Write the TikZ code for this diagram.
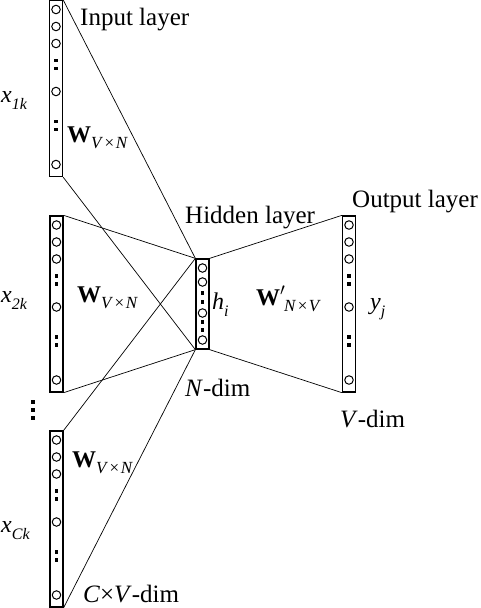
\documentclass[tikz,border=0pt]{standalone}
\usepackage{fontspec}
\setmainfont{Liberation Serif}
\newcommand\vsub[2]{\textit{#1}\raisebox{-7pt}{\fontsize{16}{16}\selectfont\textit{#2}}}
\newcommand\wsub[2]{{\fontsize{24}{24}\selectfont\bfseries W#1}\raisebox{-6pt}{\fontsize{17}{17}\selectfont #2}}
\newcommand\fillcol[3]{%
  \foreach \d [count=\i] in {9,26,43,91,164} \node[unit] (#1u\i) at (#2,#3+\d) {};
  \foreach \d [count=\i] in {60,68,121,129} \node[sq] (#1d\i) at (#2,#3+\d) {};
}
\begin{document}
\begin{tikzpicture}[x=1pt,y=-1pt,
  layer/.style={draw, rectangle, line width=1.3pt, minimum width=13pt, inner sep=0pt},
  unit/.style={circle, draw, line width=1pt, minimum size=8.5pt, inner sep=0pt},
  sq/.style={rectangle, fill=black, minimum size=3.8pt, inner sep=0pt},
  conn/.style={line width=0.7pt},
  lbl/.style={font=\fontsize{25}{30}\selectfont, inner sep=0pt},
  var/.style={font=\fontsize{24}{28}\selectfont, inner sep=0pt}
]
\useasboundingbox (0,0) rectangle (480,608);
% layers
\node[layer, minimum height=176pt] (c1) at (56,88.5) {};
\node[layer, minimum height=176pt] (c2) at (56.5,304) {};
\node[layer, minimum height=176pt] (c3) at (56.5,519) {};
\node[layer, minimum height=90pt] (hid) at (202.5,304) {};
\node[layer, minimum height=176pt] (out) at (349,304) {};
% units
\fillcol{a}{56}{0.5}
\fillcol{b}{56.5}{216}
\fillcol{c}{56.5}{431}
\fillcol{o}{349}{216}
\foreach \d [count=\i] in {9,23,54,81} \node[unit] (hu\i) at (202.5,259+\d) {};
\foreach \d [count=\i] in {34,43,63,71} \node[sq] (hd\i) at (202.5,259+\d) {};
% vertical ellipsis between groups
\foreach \d [count=\i] in {402,410,418} \node[sq] (vd\i) at (33,\d) {};
% connectors
\draw[conn] (c1.north east) -- (hid.north west);
\draw[conn] (c1.south east) -- (hid.south west);
\draw[conn] (c2.north east) -- (hid.north west);
\draw[conn] (c2.south east) -- (hid.south west);
\draw[conn] (c3.north east) -- (hid.north west);
\draw[conn] (c3.south east) -- (hid.south west);
\draw[conn] (hid.north east) -- (out.north west);
\draw[conn] (hid.south east) -- (out.south west);
% labels
\node[lbl, anchor=base west] (tin) at (80,25) {Input layer};
\node[lbl, anchor=base west] (thid) at (185,223) {Hidden layer};
\node[lbl, anchor=base west] (tout) at (352,207) {Output layer};
\node[lbl, anchor=base west] (tn) at (185,396) {\textit{N}-dim};
\node[lbl, anchor=base west] (tv) at (340,427) {\textit{V}-dim};
\node[lbl, anchor=base west] (tc) at (83,602) {\textit{C}×\textit{V}-dim};
\node[var, anchor=base west] (x1) at (1,102) {\vsub{x}{1k}};
\node[var, anchor=base west] (x2) at (1,302) {\vsub{x}{2k}};
\node[var, anchor=base west] (x3) at (1,532) {\vsub{x}{Ck}};
\node[var, anchor=base west] (hi) at (212,309) {\vsub{h}{i}};
\node[var, anchor=base west] (yj) at (370,309) {\vsub{y}{j}};
\node[inner sep=0pt, anchor=base west] (w1) at (67,142) {\wsub{}{\textit{V}\hspace{1.5pt}×\hspace{1.5pt}\textit{N}}};
\node[inner sep=0pt, anchor=base west] (w2) at (77,302) {\wsub{}{\textit{V}\hspace{1.5pt}×\hspace{1.5pt}\textit{N}}};
\node[inner sep=0pt, anchor=base west] (w3) at (72,467) {\wsub{}{\textit{V}\hspace{1.5pt}×\hspace{1.5pt}\textit{N}}};
\node[inner sep=0pt, anchor=base west] (w4) at (256,305) {\wsub{\rlap{$'$}\hspace{4pt}}{\textit{N}\hspace{1.5pt}×\hspace{1.5pt}\textit{V}}};
\end{tikzpicture}
\end{document}
